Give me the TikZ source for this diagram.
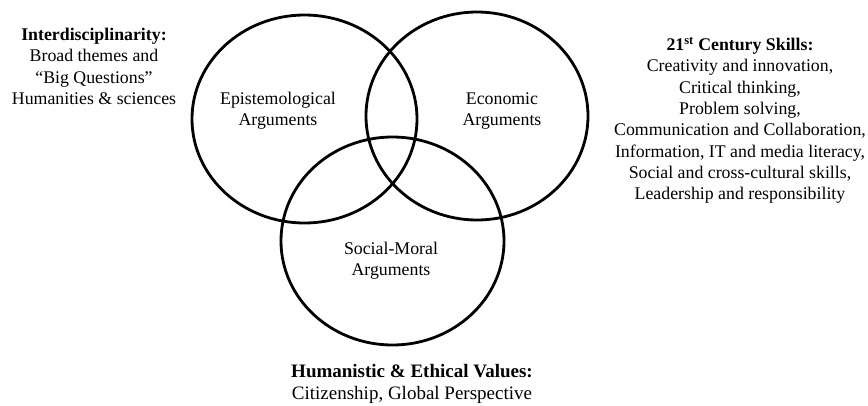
\documentclass[tikz,border=0pt]{standalone}
\usepackage{fontspec}
\setmainfont{Liberation Serif}
\tikzset{
	ring/.style={line width=2.8pt},
	lbl/.style={align=center, inner sep=0pt, font=\fontsize{17.8}{21.3}\selectfont},
}
\begin{document}
\begin{tikzpicture}[x=1pt, y=-1pt]
	\useasboundingbox (0,0) rectangle (868,405);
	
	\foreach \x/\y/\rx in {304.5/119/112.5, 477/116/111, 392.5/241/111.5}
	{
		\draw[ring] (\x, \y) ellipse ({\rx pt} and 104pt);
	}
	
	\node[lbl] (epist) at (278,111) {Epistemological\\Arguments};
	\node[lbl] (econ) at (502,111) {Economic\\Arguments};
	\node[lbl] (social) at (391,261) {Social-Moral\\Arguments};
	
	\node[lbl] (inter) at (94,66.5) {\textbf{Interdisciplinarity:}\\Broad themes and\\``Big Questions''\\Humanities \& sciences};
	\node[lbl] (skills) at (740,120.5) {\textbf{21\textsuperscript{st} Century Skills:}\\Creativity and innovation,\\Critical thinking,\\Problem solving,\\Communication and Collaboration,\\Information, IT and media literacy,\\Social and cross-cultural skills,\\Leadership and responsibility};
	\node[lbl, font=\fontsize{19}{21.5}\selectfont] (values) at (412,384) {\textbf{Humanistic \& Ethical Values:}\\Citizenship, Global Perspective};
\end{tikzpicture}
\end{document}
